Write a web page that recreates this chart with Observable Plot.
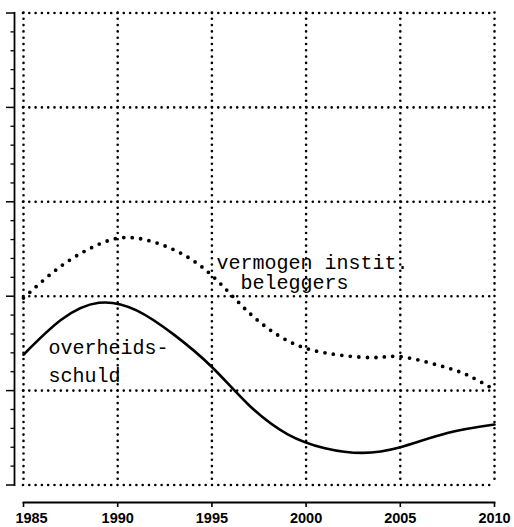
<!DOCTYPE html>
<html>
<head>
<meta charset="utf-8">
<script src="https://cdn.jsdelivr.net/npm/d3@7"></script>
<script src="https://cdn.jsdelivr.net/npm/@observablehq/plot@0.6"></script>
<style>
  html, body { margin: 0; padding: 0; background: #fff; }
</style>
</head>
<body>
<div id="chart"></div>
<script>
// "vermogen instit. beleggers" (dotted line)
const vYears  = [1985, 1987, 1989, 1990.8, 1993, 1995, 1997, 1999, 2001, 2003.5, 2005, 2007, 2008.5, 2010];
const vValues = [1.98, 2.32, 2.55, 2.62,   2.49, 2.22, 1.82, 1.53, 1.40, 1.35,   1.36, 1.27, 1.17,   1.01];
// "overheidsschuld" (solid line)
const oYears  = [1985, 1987, 1989, 1991, 1993, 1995, 1997, 1999, 2001, 2003, 2005, 2007.5, 2010];
const oValues = [1.38, 1.75, 1.93, 1.85, 1.59, 1.25, 0.84, 0.54, 0.39, 0.34, 0.40, 0.55,   0.64];

const xTicks = [1985, 1990, 1995, 2000, 2005, 2010];
const yMajor = [0, 1, 2, 3, 4, 5];
const yMinor = [0.2,0.4,0.6,0.8,1.2,1.4,1.6,1.8,2.2,2.4,2.6,2.8,3.2,3.4,3.6,3.8,4.2,4.4,4.6,4.8];
// series labels (two lines each; the second line of the first label is indented by two characters)
const labelText = ["vermogen instit.\n\u00a0\u00a0beleggers", "overheids-\nschuld"];
const labelX = [1995.24, 1986.33];
const labelY = [2.08, 1.095];
const labelLineHeight = [1.0, 1.4];

const vData = vYears.map((y, i) => ({year: y, value: vValues[i]}));
const oData = oYears.map((y, i) => ({year: y, value: oValues[i]}));
const labels = labelText.map((t, i) => ({text: t, x: labelX[i], y: labelY[i]}));

const gridStyle = {stroke: "#000", strokeWidth: 2.6, strokeDasharray: "0 6.3", strokeLinecap: "round"};
const tickLabelStyle = {tickSize: 0, dy: 22.5, tickPadding: 5, tickFormat: d => String(d), fontSize: 14.5, fontWeight: "bold", fill: "#000"};
const labelStyle = {x: "x", y: "y", text: "text", textAnchor: "start", lineAnchor: "bottom", fontFamily: "Liberation Mono, Courier New, monospace", fontSize: 20, fill: "#000"};

const chart = Plot.plot({
  width: 514,
  height: 527,
  marginLeft: 23,
  marginRight: 20,
  marginTop: 12.5,
  marginBottom: 42.5,
  style: {fontFamily: "Liberation Sans, Arial, sans-serif", background: "#fff", color: "#000"},
  x: {domain: [1985, 2010], axis: null},
  y: {domain: [0, 5], axis: null},
  marks: [
    Plot.ruleY(yMajor, gridStyle),
    Plot.ruleX(xTicks, gridStyle),
    // left axis (unlabelled)
    Plot.frame({anchor: "left", dx: -9, stroke: "#000", strokeWidth: 1.8}),
    Plot.axisY(yMajor, {tickSize: 8, dx: -9, tickFormat: () => "", strokeWidth: 1.5}),
    Plot.axisY(yMinor, {tickSize: 3.5, dx: -9, tickFormat: () => "", strokeWidth: 1.3}),
    // bottom axis
    Plot.frame({anchor: "bottom", dy: 17.5, stroke: "#000", strokeWidth: 1.8}),
    Plot.axisX(xTicks, {tickSize: 5, dy: 17.5, tickFormat: () => "", strokeWidth: 1.6}),
    Plot.axisX(xTicks.slice(1), tickLabelStyle),
    Plot.axisX(xTicks.slice(0, 1), {...tickLabelStyle, dx: 8}),
    // data
    Plot.line(vData, {x: "year", y: "value", curve: "natural", stroke: "#000", strokeWidth: 3.8, strokeDasharray: "0 8.5", strokeLinecap: "round"}),
    Plot.line(oData, {x: "year", y: "value", curve: "natural", stroke: "#000", strokeWidth: 2.6}),
    Plot.text(labels.slice(0, 1), {...labelStyle, lineHeight: labelLineHeight[0]}),
    Plot.text(labels.slice(1), {...labelStyle, lineHeight: labelLineHeight[1]})
  ]
});
document.getElementById("chart").appendChild(chart);
</script>
</body>
</html>
